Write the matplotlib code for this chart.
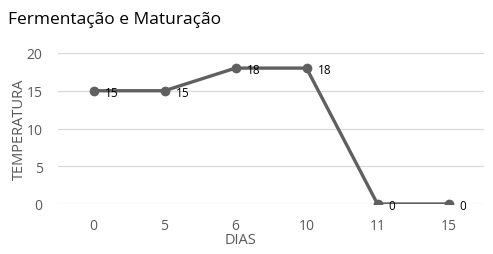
import matplotlib
matplotlib.use("Agg")
import matplotlib.pyplot as plt

categories = ["0", "5", "6", "10", "11", "15"]
temperatura = [15, 15, 18, 18, 0, 0]
yticks = [0, 5, 10, 15, 20]

plt.rcParams['font.family'] = ['Open Sans', 'DejaVu Sans']

fig = plt.figure(figsize=(4.93, 2.55), dpi=100)
ax = fig.add_axes([58/493, 1-205/255, (484-58)/493, (205-54)/255])
x = list(range(len(categories)))
ax.plot(x, temperatura, color="#606060", lw=2.4, marker="o", ms=6, zorder=3)
for xi, v in zip(x, temperatura):
    ax.annotate(str(v), (xi, v), xytext=(8, -1), textcoords="offset points",
                ha="left", va="center", fontsize=8.5, color="#000000", zorder=4)
ax.set_xlim(-0.5, len(categories) - 0.5)
ax.set_ylim(0, 20)
ax.set_yticks(yticks)
ax.set_xticks(x)
ax.set_xticklabels(categories)
ax.grid(axis="y", color="#d9d9d9", lw=0.9)
ax.set_axisbelow(True)
for s in ax.spines.values():
    s.set_visible(False)
ax.tick_params(length=0, colors="#595959", labelsize=10)
ax.tick_params(axis="y", pad=11)
ax.tick_params(axis="x", pad=10)
ax.set_xlabel("DIAS", color="#595959", fontsize=10.5)
ax.xaxis.set_label_coords((240-58)/426, (205-240)/151)
ax.xaxis.label.set_va("center")
ax.set_ylabel("TEMPERATURA", color="#595959", fontsize=10.5)
ax.yaxis.set_label_coords((19-58)/426, 0.5)
ax.yaxis.label.set_va("center")
ax.set_clip_on(False)
fig.text(8/493, 1-20/255, "Fermentação e Maturação", fontsize=12.5, color="#000000", va="center", ha="left")
fig.savefig("out.png", dpi=100)
